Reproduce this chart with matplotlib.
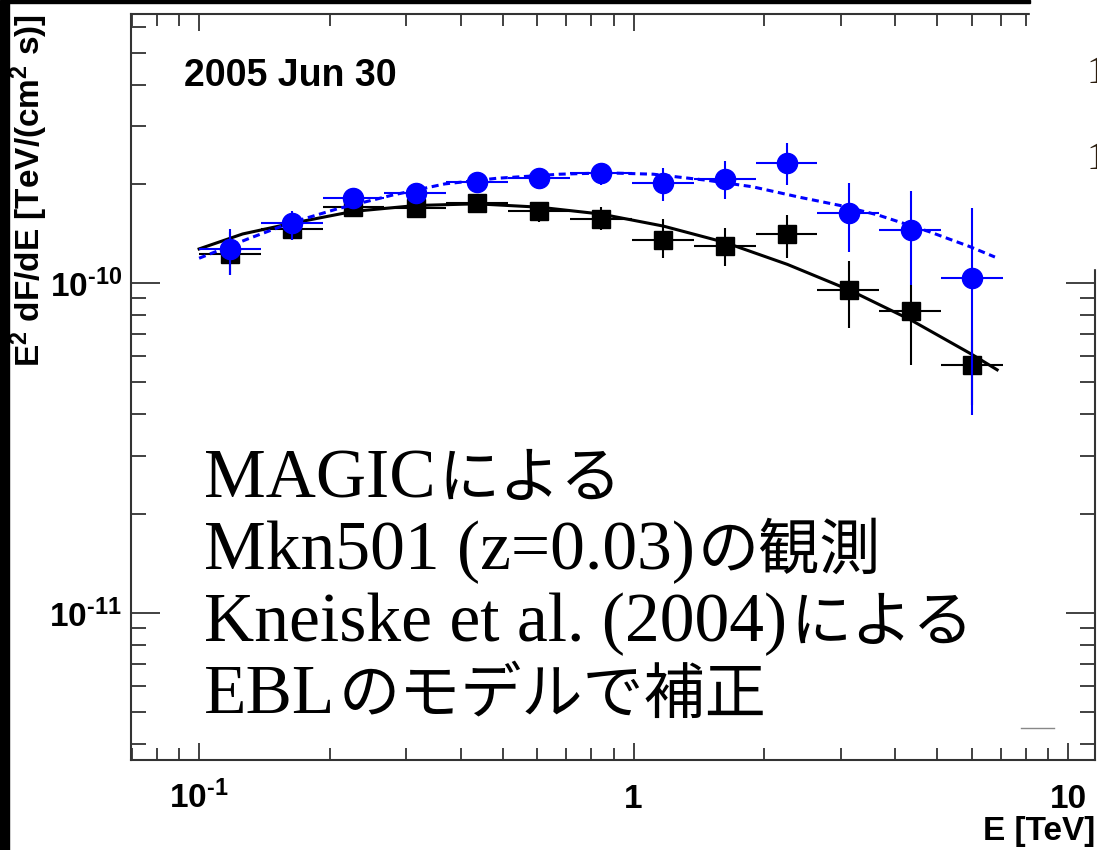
import matplotlib; matplotlib.use("Agg")
import matplotlib.pyplot as plt, numpy as np
from matplotlib.ticker import FixedLocator, LogLocator, NullFormatter
from matplotlib.patches import Rectangle
from matplotlib.lines import Line2D

plt.rcParams["font.family"] = ["Liberation Sans", "DejaVu Sans"]
plt.rcParams["font.weight"] = "bold"
plt.rcParams["axes.labelweight"] = "bold"
plt.rcParams["mathtext.fontset"] = "custom"
plt.rcParams["mathtext.rm"] = "Liberation Sans:bold"
plt.rcParams["mathtext.it"] = "Liberation Sans:bold"
plt.rcParams["mathtext.bf"] = "Liberation Sans:bold"
plt.rcParams["mathtext.default"] = "bf"

# energy bins [TeV]
e_center = [0.118, 0.164, 0.226, 0.316, 0.436, 0.606, 0.842, 1.17, 1.62, 2.26, 3.13, 4.35, 6.01]
e_lo = [0.100, 0.139, 0.193, 0.267, 0.371, 0.515, 0.714, 0.991, 1.38, 1.91, 2.65, 3.68, 5.10]
e_hi = [0.139, 0.193, 0.267, 0.371, 0.515, 0.714, 0.991, 1.38, 1.91, 2.65, 3.68, 5.10, 7.08]

# E^2 dF/dE in units of 1e-10 TeV/(cm^2 s)
UNIT = 1e-10
flux_obs = [1.23, 1.46, 1.70, 1.69, 1.75, 1.65, 1.57, 1.35, 1.30, 1.41, 0.952, 0.822, 0.564]
obs_hi = [1.43, 1.57, 1.79, 1.79, 1.85, 1.76, 1.70, 1.57, 1.47, 1.61, 1.17, 0.986, 0.720]
obs_lo = [1.06, 1.35, 1.62, 1.60, 1.65, 1.53, 1.45, 1.19, 1.13, 1.19, 0.730, 0.564, 0.427]

flux_corr = [1.27, 1.52, 1.81, 1.88, 2.03, 2.08, 2.16, 2.01, 2.07, 2.31, 1.63, 1.45, 1.04]
corr_hi = [1.46, 1.65, 1.92, 1.98, 2.16, 2.22, 2.31, 2.23, 2.34, 2.66, 2.01, 1.90, 1.69]
corr_lo = [1.06, 1.35, 1.71, 1.77, 1.90, 1.94, 1.98, 1.77, 1.80, 1.98, 1.24, 0.986, 0.398]

# fitted spectra
fit_obs_e = [0.100, 0.126, 0.164, 0.226, 0.316, 0.436, 0.606, 0.842, 1.17, 1.62, 2.26, 3.13, 4.35, 6.01, 6.87]
fit_obs_f = [1.27, 1.41, 1.52, 1.65, 1.72, 1.74, 1.70, 1.62, 1.49, 1.33, 1.14, 0.955, 0.773, 0.608, 0.546]
fit_corr_e = [0.100, 0.131, 0.164, 0.208, 0.279, 0.368, 0.485, 0.677, 0.869, 1.11, 1.48, 1.88, 2.42, 2.99, 3.65, 4.81, 5.95, 6.79]
fit_corr_f = [1.19, 1.37, 1.53, 1.68, 1.85, 2.00, 2.08, 2.14, 2.16, 2.14, 2.05, 1.96, 1.82, 1.72, 1.61, 1.43, 1.29, 1.20]

# caption: (latin part, japanese part) per line
note_latin = ["MAGIC", "Mkn501 (z=0.03)", "Kneiske et al. (2004)", "EBL"]
note_jp = ["による", "の観測", "による", "のモデルで補正"]

W, H = 1097, 850
fig = plt.figure(figsize=(W / 100, H / 100), dpi=100)
ax = fig.add_axes([131 / W, 1 - 760 / H, (1095 - 131) / W, (760 - 14) / H])
ax.set_xscale("log"); ax.set_yscale("log")
ax.set_xlim(0.0697, 11.54); ax.set_ylim(3.58e-12, 6.55e-10)

ec = np.array(e_center)
xerr = [ec - np.array(e_lo), np.array(e_hi) - ec]

def yerr(f, lo, hi):
    f = np.array(f)
    return [(f - np.array(lo)) * UNIT, (np.array(hi) - f) * UNIT]

ax.plot(fit_obs_e, np.array(fit_obs_f) * UNIT, color="black", lw=2.2, zorder=2)
ax.errorbar(ec, np.array(flux_obs) * UNIT, xerr=xerr, yerr=yerr(flux_obs, obs_lo, obs_hi),
            fmt="s", color="black", ms=13.5, elinewidth=1.5, capsize=0, zorder=3)
ax.plot(fit_corr_e, np.array(fit_corr_f) * UNIT, color="#0000ff", lw=2.2,
        ls=(0, (2.3, 1.5)), zorder=4)
ax.errorbar(ec, np.array(flux_corr) * UNIT, xerr=xerr, yerr=yerr(flux_corr, corr_lo, corr_hi),
            fmt="o", color="#0000ff", ms=14.5, elinewidth=1.5, capsize=0, zorder=5)

# ticks, ROOT style
ax.set_xticks([0.1, 1, 10], labels=[r"$10^{\text{-}1}$", "1", "10"], va="baseline")
ax.xaxis.set_minor_locator(LogLocator(base=10, subs=np.arange(2, 10), numticks=20))
ax.xaxis.set_minor_formatter(NullFormatter())
ax.yaxis.set_major_locator(FixedLocator([1e-11, 1e-10]))
ax.set_yticks([1e-11, 1e-10], labels=[r"$10^{\text{-}11}$", r"$10^{\text{-}10}$"])
ax.yaxis.set_minor_locator(LogLocator(base=10, subs=np.arange(2, 10), numticks=20))
ax.yaxis.set_minor_formatter(NullFormatter())
tc = "#333333"
ax.tick_params(which="both", direction="in", top=True, right=True, color=tc, width=1.3,
               labelsize=24)
ax.tick_params(axis="x", which="major", length=12.5, pad=34.5)
ax.tick_params(axis="x", which="minor", length=8.6)
ax.tick_params(axis="y", which="major", length=20.9, pad=6.5)
ax.tick_params(axis="y", which="minor", length=10.8)
for s in ax.spines.values():
    s.set_color(tc); s.set_linewidth(1.5)

ax.set_ylabel(r"E$^{2}$ dF/dE [TeV/(cm$^{2}$ s)]", loc="top", fontsize=24, fontweight="bold")
ax.yaxis.set_label_coords(-0.084, 1.0)
ax.set_xlabel("E [TeV]", loc="right", fontsize=24, fontweight="bold")
ax.xaxis.set_label_coords(1.0, -0.075)

fig.text(184 / W, 1 - 86 / H, "2005 Jun 30", fontsize=27, weight="bold", va="baseline")

# caption lines: serif latin, japanese right after it on the same baseline
renderer = fig.canvas.get_renderer()
for lat, jp, base in zip(note_latin, note_jp, [497, 569, 641, 713]):
    y = 1 - base / H
    t = fig.text(204 / W, y, lat, fontsize=50, weight="normal", va="baseline",
                 family="Liberation Serif", color="black")
    x1 = t.get_window_extent(renderer).x1 / fig.bbox.width
    fig.text(x1 + 3 / W, y, jp, fontsize=44, weight="normal", va="baseline",
             family=["Noto Sans CJK JP", "DejaVu Sans"], color="black")

# slide surroundings
fig.patches.append(Rectangle((1030 / W, 1 - 268 / H), 1 - 1030 / W, 268 / H,
                             transform=fig.transFigure, color="white", zorder=5))
fig.patches.append(Rectangle((0, 0), 8.5 / W, 1, transform=fig.transFigure,
                             color="black", zorder=6))
fig.patches.append(Rectangle((8 / W, 1 - 3 / H), (1030 - 8) / W, 3 / H,
                             transform=fig.transFigure, color="black", zorder=6))
fig.lines.append(Line2D([1021 / W, 1054 / W], [1 - 728 / H] * 2, transform=fig.transFigure,
                        color="#888888", lw=1, zorder=6))
for base in [83, 169]:
    fig.text(1086 / W, 1 - base / H, "1", fontsize=29, weight="normal", va="baseline",
             family="Liberation Serif", color="#2b1d0e", zorder=7)

fig.savefig("out.png", dpi=100, facecolor="white")
